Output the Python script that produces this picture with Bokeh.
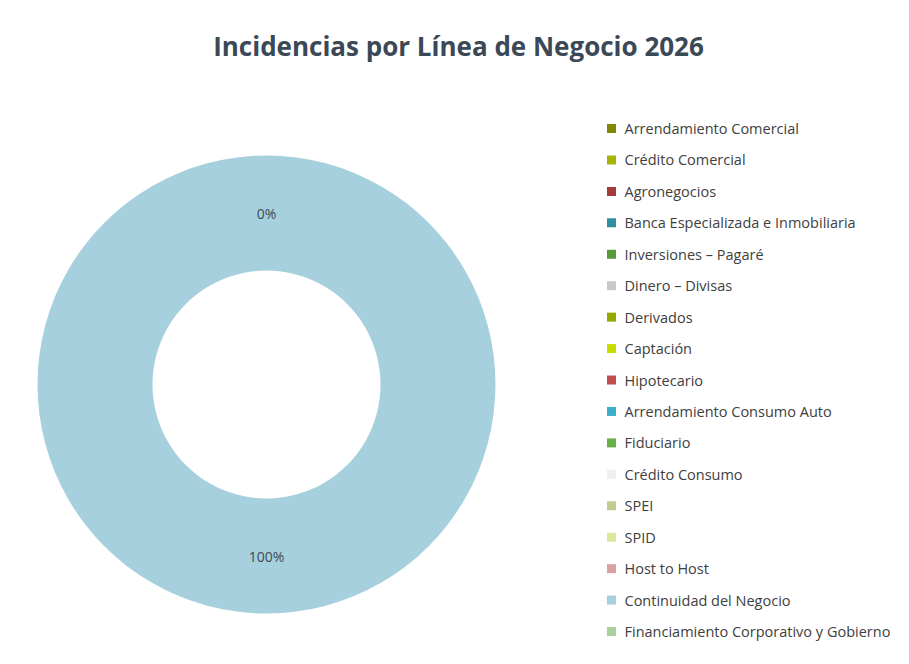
import math
from bokeh.plotting import figure
from bokeh.models import Range1d, ColumnDataSource, Label
from bokeh.core.properties import value
from bokeh.embed import file_html
from bokeh.resources import INLINE

# ---- data ----
categories = [
    "Arrendamiento Comercial",
    "Crédito Comercial",
    "Agronegocios",
    "Banca Especializada e Inmobiliaria",
    "Inversiones – Pagaré",
    "Dinero – Divisas",
    "Derivados",
    "Captación",
    "Hipotecario",
    "Arrendamiento Consumo Auto",
    "Fiduciario",
    "Crédito Consumo",
    "SPEI",
    "SPID",
    "Host to Host",
    " Continuidad del Negocio",
    "Financiamiento Corporativo y Gobierno",
]
incidencias = [0, 0, 0, 0, 0, 0, 0, 0, 0, 0, 0, 0, 0, 0, 0, 1, 0]
colors = [
    "#7f8a00", "#a8b400", "#a33b3b", "#2f8fa1", "#58993a", "#c8c8c8",
    "#98a600", "#c8dc00", "#c0504d", "#3cafc8", "#6ab04a", "#f0f0f0",
    "#c3cb91", "#dde89b", "#d9a1a1", "#a6d0dd", "#a9d19b",
]
title_text = "Incidencias por Línea de Negocio 2026"

# ---- layout (pixel-like data space) ----
W, H = 901, 656
FONT = "Open Sans"
cx, cy = 266, H - 384
r_in, r_out = 114, 229

total = sum(incidencias)
starts, ends, pct_labels, lx, ly = [], [], [], [], []
cum = 0.0
for v in incidencias:
    frac = v / total
    a0 = math.pi / 2 - 2 * math.pi * cum
    span = min(2 * math.pi * frac, 2 * math.pi - 1e-4)
    a1 = a0 - span
    starts.append(a0)
    ends.append(a1)
    mid = a0 - span / 2 if frac < 1 else a0 - math.pi
    rm = (r_in + r_out) / 2
    lx.append(cx + rm * math.cos(mid))
    ly.append(cy + rm * math.sin(mid))
    pct_labels.append(f"{round(frac * 100)}%")
    cum += frac

p = figure(width=W, height=H, x_range=Range1d(0, W), y_range=Range1d(0, H),
           output_backend="svg", toolbar_location=None,
           x_axis_location=None, y_axis_location=None, min_border=0)
p.outline_line_color = None
p.xgrid.visible = False
p.ygrid.visible = False
p.background_fill_color = "white"
p.border_fill_color = "white"

# donut slices (skip zero-width ones)
nz = [i for i, v in enumerate(incidencias) if v > 0]
src = ColumnDataSource(dict(
    start=[starts[i] for i in nz], end=[ends[i] for i in nz],
    color=[colors[i] for i in nz],
))
p.annular_wedge(x=cx, y=cy, inner_radius=r_in, outer_radius=r_out,
                start_angle="start", end_angle="end", direction="clock",
                fill_color="color", line_color=None, source=src)

# percentage labels (deduplicate coinciding positions)
seen = set()
tx, ty, tt = [], [], []
for x, y, t in zip(lx, ly, pct_labels):
    key = (round(x), round(y))
    if key in seen:
        continue
    seen.add(key)
    tx.append(x); ty.append(y); tt.append(t)
p.text(x=tx, y=ty, text=tt, text_align="center", text_baseline="middle",
       text_font=value(FONT), text_font_size="14px", text_color="#404a55")

# legend
row0, step = H - 128, 31.44
leg_y = [row0 - i * step for i in range(len(categories))]
p.rect(x=[611] * len(categories), y=leg_y, width=9, height=9,
       width_units="screen", height_units="screen",
       fill_color=colors, line_color=None)
p.text(x=[624] * len(categories), y=leg_y, text=categories,
       text_align="left", text_baseline="middle",
       text_font=value(FONT), text_font_size="14.5px", text_color="#404040")

# title
p.add_layout(Label(x=458, y=H - 45, text=title_text, text_align="center",
                   text_baseline="middle", text_font=FONT,
                   text_font_size="26px", text_font_style="bold",
                   text_color="#3b4856"))

open("out.html", "w").write(file_html(p, INLINE))
